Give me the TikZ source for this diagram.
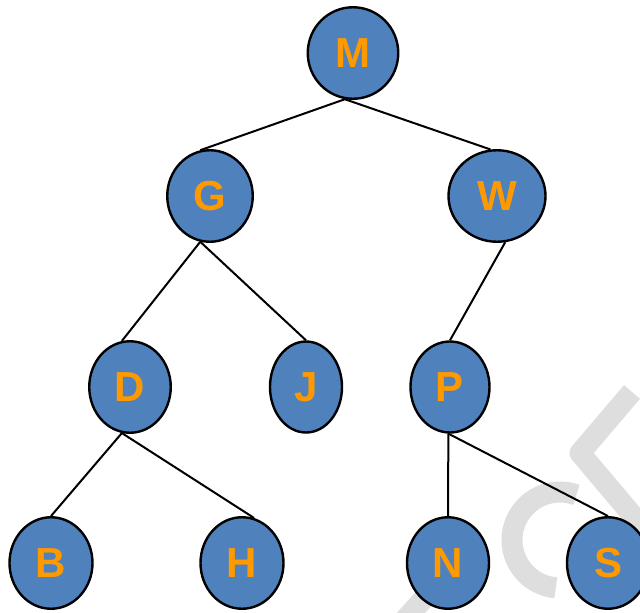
\documentclass[tikz,border=0pt]{standalone}
\usepackage{fontspec}
\setmainfont{Liberation Sans}
\usetikzlibrary{shapes.geometric}
\definecolor{nodeblue}{HTML}{4F81BD}
\definecolor{letter}{RGB}{255,153,0}
\definecolor{wmgray}{HTML}{DEDEDE}
\tikzset{
  tnode/.style={ellipse, draw=black, line width=2.4pt, fill=nodeblue, inner sep=0pt,
    text=letter, font=\bfseries\fontsize{42}{42}\selectfont},
  edge/.style={draw=black, line width=2pt},
  wm/.style={draw=wmgray, line width=21pt}
}
\begin{document}
\begin{tikzpicture}[x=1pt,y=-1pt]
\useasboundingbox (0,0) rectangle (640,613);
\begin{scope}
\clip (0,0) rectangle (640,613);
\draw[wm, line join=round] (632,392) -- (580,453) -- (645,530);
\draw[wm] (560,540) ++(95:48) arc[start angle=95, end angle=290, radius=48];
\draw[wm] (400,625) -- (428,594);
\end{scope}
\node[tnode, minimum width=90.5pt, minimum height=91.5pt] (M) at (353,53) {M};
\node[tnode, minimum width=85.5pt, minimum height=91.5pt] (G) at (210,196) {G};
\node[tnode, minimum width=97pt, minimum height=91.5pt] (W) at (497,196) {W};
\node[tnode, minimum width=81.5pt, minimum height=91.5pt] (D) at (130,387) {D};
\node[tnode, minimum width=72pt, minimum height=91pt] (J) at (306,387) {J};
\node[tnode, minimum width=79pt, minimum height=91pt] (P) at (450,387) {P};
\node[tnode, minimum width=83pt, minimum height=91.5pt] (B) at (51,563) {B};
\node[tnode, minimum width=83pt, minimum height=91.5pt] (H) at (242,563) {H};
\node[tnode, minimum width=82pt, minimum height=91.5pt] (N) at (448,563) {N};
\node[tnode, minimum width=82pt, minimum height=91.5pt] (S) at (608,563) {S};
\draw[edge] (M.260) -- (G.102);
\draw[edge] (M.260) -- (W.98);
\draw[edge] (G.258) -- (D.100);
\draw[edge] (G.258) -- (J.north);
\draw[edge] (W.280) -- (P.north);
\draw[edge] (D.260) -- (B.north);
\draw[edge] (D.260) -- (H.75);
\draw[edge] (P.268) -- (N.north);
\draw[edge] (P.268) -- (S.north);
\end{tikzpicture}
\end{document}
